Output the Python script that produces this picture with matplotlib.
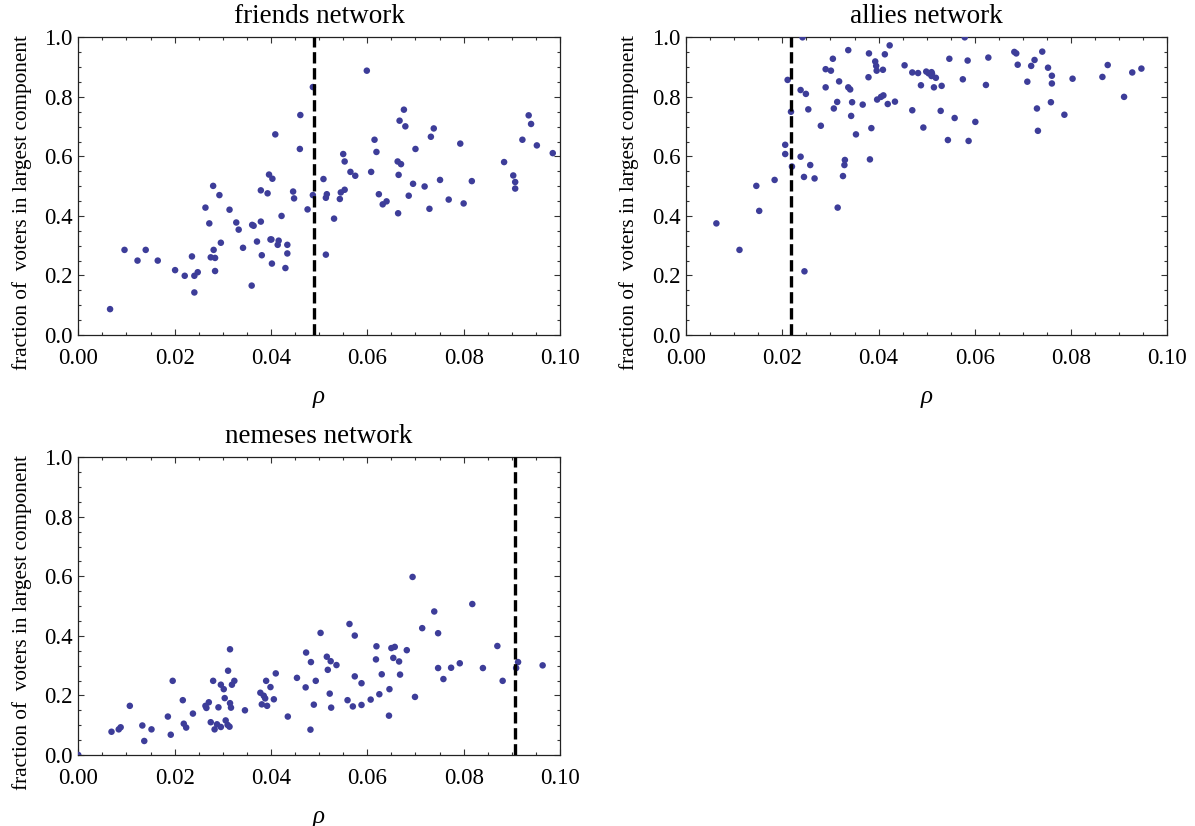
import matplotlib.pyplot as plt
from matplotlib.ticker import MultipleLocator

plt.rcParams['font.family'] = ['Liberation Serif', 'DejaVu Serif']

# friends network
friends_x = [0.0066, 0.0096, 0.0123, 0.0140, 0.0165, 0.0201, 0.0221, 0.0236, 0.0241, 0.0241,
             0.0248, 0.0264, 0.0272, 0.0275, 0.0280, 0.0281, 0.0284, 0.0284, 0.0293, 0.0296,
             0.0314, 0.0328, 0.0333, 0.0342, 0.0360, 0.0361, 0.0364, 0.0371, 0.0379, 0.0379,
             0.0381, 0.0393, 0.0396, 0.0399, 0.0401, 0.0403, 0.0402, 0.0409, 0.0414, 0.0416,
             0.0422, 0.0430, 0.0434, 0.0434, 0.0446, 0.0448, 0.0460, 0.0461, 0.0476, 0.0487,
             0.0487, 0.0509, 0.0514, 0.0516, 0.0514, 0.0531, 0.0543, 0.0545, 0.0550, 0.0553,
             0.0553, 0.0565, 0.0575, 0.0599, 0.0608, 0.0615, 0.0619, 0.0624, 0.0632, 0.0640,
             0.0664, 0.0663, 0.0665, 0.0667, 0.0670, 0.0676, 0.0679, 0.0686, 0.0695, 0.0700,
             0.0719, 0.0729, 0.0732, 0.0738, 0.0751, 0.0769, 0.0793, 0.0800, 0.0817, 0.0884,
             0.0903, 0.0907, 0.0907, 0.0922, 0.0935, 0.0940, 0.0952, 0.0985]
friends_y = [0.087, 0.286, 0.250, 0.286, 0.250, 0.218, 0.199, 0.264, 0.199, 0.143,
             0.211, 0.428, 0.375, 0.261, 0.501, 0.286, 0.259, 0.215, 0.470, 0.310,
             0.421, 0.378, 0.354, 0.293, 0.166, 0.370, 0.367, 0.314, 0.381, 0.486,
             0.268, 0.476, 0.539, 0.321, 0.321, 0.525, 0.240, 0.674, 0.303, 0.317,
             0.400, 0.225, 0.303, 0.274, 0.482, 0.459, 0.625, 0.739, 0.422, 0.833,
             0.470, 0.524, 0.461, 0.473, 0.270, 0.391, 0.457, 0.479, 0.608, 0.583,
             0.488, 0.548, 0.535, 0.888, 0.548, 0.656, 0.615, 0.473, 0.439, 0.449,
             0.409, 0.583, 0.538, 0.720, 0.574, 0.757, 0.701, 0.468, 0.508, 0.625,
             0.499, 0.424, 0.666, 0.694, 0.521, 0.455, 0.643, 0.442, 0.517, 0.581,
             0.536, 0.514, 0.492, 0.656, 0.738, 0.709, 0.637, 0.611]

# allies network
allies_x = [0.0063, 0.0111, 0.0146, 0.0152, 0.0184, 0.0206, 0.0206, 0.0211, 0.0218, 0.0220,
            0.0238, 0.0238, 0.0242, 0.0245, 0.0246, 0.0249, 0.0254, 0.0258, 0.0267, 0.0280,
            0.0290, 0.0290, 0.0301, 0.0305, 0.0307, 0.0314, 0.0315, 0.0318, 0.0326, 0.0329,
            0.0330, 0.0337, 0.0337, 0.0341, 0.0343, 0.0345, 0.0353, 0.0367, 0.0379, 0.0380,
            0.0382, 0.0385, 0.0393, 0.0395, 0.0396, 0.0397, 0.0405, 0.0409, 0.0410, 0.0413,
            0.0419, 0.0423, 0.0434, 0.0454, 0.0470, 0.0470, 0.0482, 0.0488, 0.0493, 0.0499,
            0.0504, 0.0510, 0.0511, 0.0510, 0.0515, 0.0519, 0.0529, 0.0531, 0.0544, 0.0547,
            0.0558, 0.0575, 0.0579, 0.0585, 0.0587, 0.0601, 0.0623, 0.0628, 0.0682, 0.0686,
            0.0689, 0.0709, 0.0717, 0.0724, 0.0729, 0.0731, 0.0740, 0.0752, 0.0758, 0.0760,
            0.0760, 0.0786, 0.0803, 0.0865, 0.0876, 0.0910, 0.0927, 0.0946]
allies_y = [0.375, 0.286, 0.501, 0.417, 0.521, 0.639, 0.608, 0.857, 0.750, 0.566,
            0.599, 0.823, 1.000, 0.531, 0.214, 0.810, 0.758, 0.571, 0.526, 0.703,
            0.893, 0.832, 0.888, 0.928, 0.761, 0.783, 0.428, 0.852, 0.534, 0.571,
            0.588, 0.957, 0.832, 0.825, 0.736, 0.782, 0.674, 0.774, 0.866, 0.946,
            0.590, 0.695, 0.919, 0.904, 0.888, 0.791, 0.800, 0.891, 0.805, 0.943,
            0.776, 0.973, 0.784, 0.906, 0.882, 0.755, 0.880, 0.839, 0.697, 0.885,
            0.879, 0.883, 0.878, 0.870, 0.832, 0.864, 0.753, 0.837, 0.655, 0.928,
            0.729, 0.859, 1.000, 0.922, 0.652, 0.716, 0.840, 0.932, 0.951, 0.946,
            0.908, 0.851, 0.904, 0.924, 0.761, 0.686, 0.952, 0.898, 0.782, 0.871,
            0.845, 0.740, 0.861, 0.867, 0.907, 0.800, 0.882, 0.895]

# nemeses network
nemeses_x = [0.0000, 0.0069, 0.0084, 0.0088, 0.0107, 0.0133, 0.0137, 0.0152, 0.0186, 0.0192,
             0.0196, 0.0217, 0.0219, 0.0224, 0.0238, 0.0264, 0.0266, 0.0271, 0.0275, 0.0280,
             0.0283, 0.0288, 0.0291, 0.0296, 0.0296, 0.0302, 0.0304, 0.0306, 0.0310, 0.0311,
             0.0314, 0.0315, 0.0315, 0.0317, 0.0319, 0.0324, 0.0346, 0.0378, 0.0381, 0.0385,
             0.0388, 0.0390, 0.0392, 0.0399, 0.0406, 0.0410, 0.0435, 0.0454, 0.0472, 0.0482,
             0.0473, 0.0483, 0.0489, 0.0493, 0.0503, 0.0516, 0.0524, 0.0518, 0.0536, 0.0522,
             0.0525, 0.0559, 0.0563, 0.0570, 0.0574, 0.0574, 0.0588, 0.0588, 0.0607, 0.0618,
             0.0619, 0.0625, 0.0630, 0.0645, 0.0646, 0.0650, 0.0654, 0.0657, 0.0666, 0.0668,
             0.0682, 0.0694, 0.0699, 0.0714, 0.0739, 0.0747, 0.0747, 0.0758, 0.0774, 0.0792,
             0.0818, 0.0840, 0.0870, 0.0881, 0.0909, 0.0913, 0.0964]
nemeses_y = [0.000, 0.078, 0.086, 0.093, 0.165, 0.099, 0.047, 0.086, 0.129, 0.068,
             0.249, 0.184, 0.105, 0.092, 0.139, 0.165, 0.158, 0.177, 0.110, 0.249,
             0.086, 0.103, 0.160, 0.236, 0.094, 0.221, 0.191, 0.116, 0.101, 0.283,
             0.095, 0.355, 0.174, 0.159, 0.236, 0.249, 0.150, 0.209, 0.170, 0.199,
             0.190, 0.249, 0.165, 0.228, 0.187, 0.274, 0.129, 0.259, 0.227, 0.085,
             0.344, 0.312, 0.169, 0.249, 0.410, 0.330, 0.315, 0.286, 0.302, 0.206,
             0.159, 0.184, 0.440, 0.163, 0.264, 0.401, 0.168, 0.241, 0.186, 0.321,
             0.365, 0.204, 0.271, 0.132, 0.221, 0.359, 0.326, 0.363, 0.314, 0.270,
             0.352, 0.598, 0.195, 0.426, 0.482, 0.409, 0.292, 0.255, 0.293, 0.308,
             0.507, 0.292, 0.366, 0.249, 0.292, 0.312, 0.301]

titles = ['friends network', 'allies network', 'nemeses network']
thresholds = [0.0490, 0.0218, 0.0907]
ylabel = 'fraction of  voters in largest component'

dot_color = '#3d3d99'

fig = plt.figure(figsize=(11.95, 8.26), dpi=100)
ax1 = fig.add_axes([0.0655, 0.5944, 0.4031, 0.3604])
ax2 = fig.add_axes([0.5741, 0.5944, 0.4028, 0.3604])
ax3 = fig.add_axes([0.0655, 0.0860, 0.4031, 0.3604])

panels = [(ax1, friends_x, friends_y), (ax2, allies_x, allies_y), (ax3, nemeses_x, nemeses_y)]

for i, (ax, xs, ys) in enumerate(panels):
    ax.scatter(xs, ys, s=22, color=dot_color, edgecolors='none', zorder=3)
    ax.axvline(thresholds[i], color='black', lw=2.4, ls=(0, (3.4, 1.4)), zorder=4)
    ax.set_xlim(0, 0.1)
    ax.set_ylim(0, 1.0)
    ax.xaxis.set_major_locator(MultipleLocator(0.02))
    ax.xaxis.set_minor_locator(MultipleLocator(0.005))
    ax.yaxis.set_major_locator(MultipleLocator(0.2))
    ax.yaxis.set_minor_locator(MultipleLocator(0.05))
    ax.xaxis.set_major_formatter(plt.FuncFormatter(lambda v, p: '%.2f' % v))
    ax.yaxis.set_major_formatter(plt.FuncFormatter(lambda v, p: '%.1f' % v))
    ax.tick_params(which='both', direction='in', top=True, right=True,
                   labelsize=16.5, width=0.8, color='#333333')
    ax.tick_params(which='major', length=4.5)
    ax.tick_params(which='minor', length=2.5)
    ax.tick_params(axis='y', which='major', pad=4)
    ax.tick_params(axis='x', which='major', pad=9.5)
    for sp in ax.spines.values():
        sp.set_linewidth(0.9)
        sp.set_color('#222222')
    ax.set_title(titles[i], fontsize=19.5, pad=10)
    ax.set_xlabel('ρ', fontsize=18, fontstyle='italic', labelpad=12)
    ax.set_ylabel(ylabel, fontsize=15.3, labelpad=9)
    ax.yaxis.label.set_y(0.445)

fig.savefig('out.png', dpi=100)
